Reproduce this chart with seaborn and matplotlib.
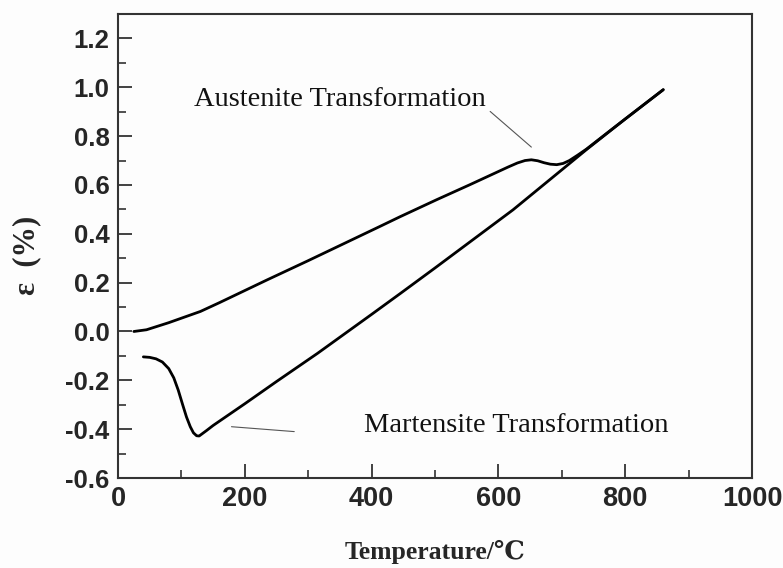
import matplotlib
matplotlib.use("Agg")
import matplotlib.pyplot as plt
import seaborn as sns
import pandas as pd
from matplotlib.ticker import MultipleLocator

# Heating branch (temperature in degC, strain in %)
heat_T = [25, 45, 80, 130, 160, 235, 300, 413, 445, 503, 555, 600, 615, 630, 642, 652, 662, 672, 682, 692, 702, 712, 725, 739, 780, 820, 860]
heat_e = [0.0, 0.007, 0.036, 0.082, 0.118, 0.211, 0.29, 0.43, 0.47, 0.54, 0.601, 0.655, 0.673, 0.69, 0.70, 0.703, 0.699, 0.691, 0.685, 0.683, 0.688, 0.70, 0.722, 0.747, 0.83, 0.91, 0.99]

# Cooling branch
cool_T = [860, 800, 740, 623, 500, 445, 400, 315, 250, 200, 150, 140, 128, 124, 119, 114, 108, 102, 95, 88, 80, 70, 60, 50, 40]
cool_e = [0.99, 0.87, 0.747, 0.498, 0.26, 0.155, 0.07, -0.089, -0.205, -0.296, -0.385, -0.405, -0.428, -0.427, -0.415, -0.39, -0.35, -0.30, -0.24, -0.19, -0.152, -0.125, -0.112, -0.106, -0.104]

x_ticks = [0, 200, 400, 600, 800, 1000]
y_ticks = [-0.6, -0.4, -0.2, 0.0, 0.2, 0.4, 0.6, 0.8, 1.0, 1.2]

sns.set_style("ticks")
plt.rcParams['font.family'] = ['Liberation Serif', 'DejaVu Serif']

fig = plt.figure(figsize=(7.83, 5.68), dpi=100)
fig.patch.set_facecolor("#fdfdfd")
ax = fig.add_axes([118/783, 1-478/568, (752-118)/783, (478-14)/568])
ax.set_facecolor("#fdfdfd")

df_h = pd.DataFrame({"T": heat_T, "e": heat_e})
df_c = pd.DataFrame({"T": cool_T, "e": cool_e})
sns.lineplot(data=df_h, x="T", y="e", sort=False, estimator=None, color="black", lw=2.0, ax=ax)
sns.lineplot(data=df_c, x="T", y="e", sort=False, estimator=None, color="black", lw=2.0, ax=ax)

ax.set_xlim(0, 1000)
ax.set_ylim(-0.6, 1.3)
ax.set_xticks(x_ticks)
ax.set_yticks(y_ticks)
ax.set_xticklabels([str(t) for t in x_ticks], family='Liberation Sans', fontweight='bold', fontsize=19.5)
ax.set_yticklabels([f"{t:.1f}" for t in y_ticks], family='Liberation Sans', fontweight='bold', fontsize=18.5)
ax.xaxis.set_minor_locator(MultipleLocator(100))
ax.yaxis.set_minor_locator(MultipleLocator(0.1))
ax.tick_params(which='major', direction='in', length=10, width=1.3, color='#333333', top=False, right=False, pad=6)
ax.tick_params(which='minor', direction='in', length=6, width=1.2, color='#333333', top=False, right=False)
for s in ax.spines.values():
    s.set_linewidth(1.5)
    s.set_color('#333333')
    s.set_visible(True)

ax.set_xlabel("Temperature/℃", fontsize=18.5, fontweight='bold', family=['Liberation Serif', 'DejaVu Serif'], labelpad=20)
ax.set_ylabel("")
fig.text(27/783, 1-255/568, "ε  (%)", rotation=90, ha='center', va='center', fontsize=22, fontweight='bold', family=['Liberation Serif', 'DejaVu Serif'])

ax.text(350, 0.95, "Austenite Transformation", ha='center', va='center', fontsize=20.5, family='Liberation Serif', color='#111111')
ax.plot([587, 652], [0.901, 0.755], color='#555555', lw=0.8)
ax.text(628, -0.383, "Martensite Transformation", ha='center', va='center', fontsize=20.5, family='Liberation Serif', color='#111111')
ax.plot([179, 278], [-0.39, -0.41], color='#555555', lw=0.8)

fig.savefig("out.png", dpi=100, facecolor=fig.get_facecolor())
